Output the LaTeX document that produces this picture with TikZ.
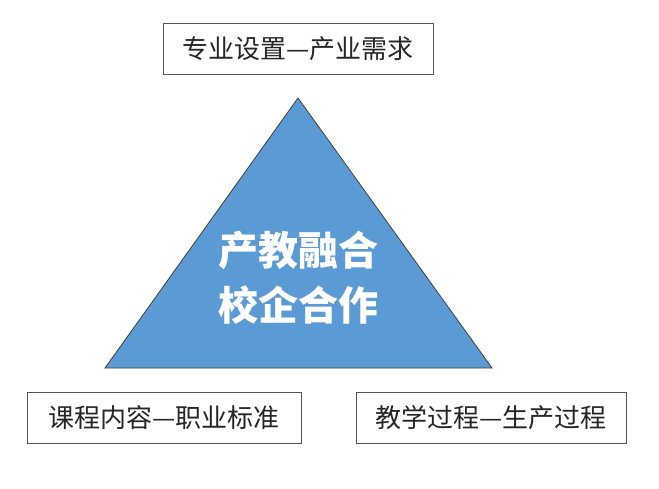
\documentclass[tikz,border=0pt]{standalone}
\usepackage{fontspec}
\newfontfamily\cjk{Noto Sans CJK SC}
\definecolor{triblue}{HTML}{5B9BD5}
\definecolor{boxgray}{HTML}{555555}
\definecolor{txtgray}{HTML}{262626}
\begin{document}
\begin{tikzpicture}[x=1pt,y=-1pt,
  labelbox/.style={draw=boxgray,line width=1pt,fill=white,minimum width=270pt,minimum height=51pt,inner sep=0pt,font=\cjk\fontsize{26}{30}\selectfont,text=txtgray},
  tri/.style={fill=triblue,draw=black!75,line width=0.8pt,line join=miter},
  centertext/.style={font=\cjk\bfseries\fontsize{40}{55}\selectfont,text=white,align=center}]
\useasboundingbox (0,0) rectangle (659,489);
\fill[white] (0,0) rectangle (659,489);
\coordinate (apex) at (298,98);
\coordinate (bl) at (105,368);
\coordinate (br) at (492,368);
\draw[tri] (apex) -- (bl) -- (br) -- cycle;
\node[centertext] (core) at (298,278) {产教融合\\校企合作};
\node[labelbox] (top) at (298,49) {专业设置—产业需求};
\node[labelbox,minimum width=274pt] (left) at (164,418) {课程内容—职业标准};
\node[labelbox] (right) at (491,418) {教学过程—生产过程};
\end{tikzpicture}
\end{document}
